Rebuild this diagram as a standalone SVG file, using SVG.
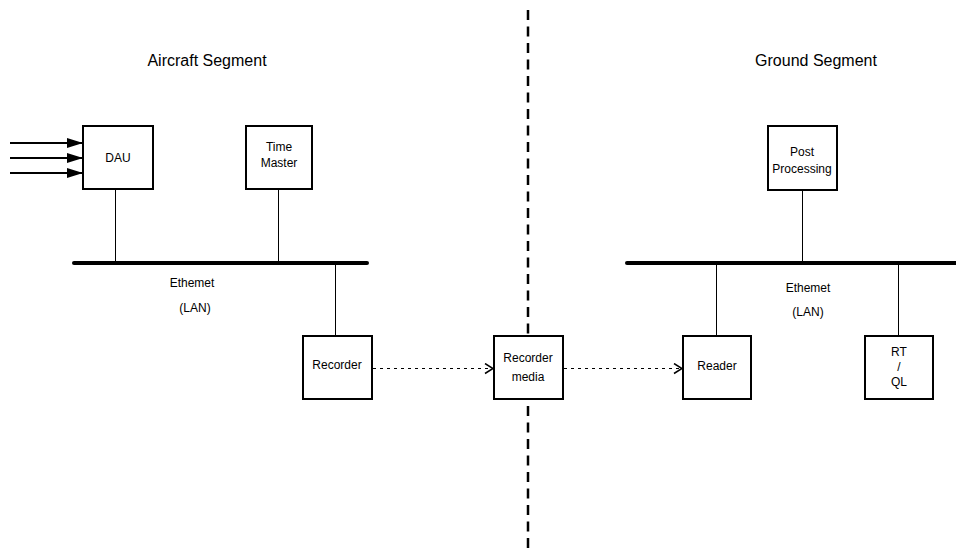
<svg xmlns="http://www.w3.org/2000/svg" width="956" height="551" viewBox="0 0 956 551">
<style>
.box{fill:#fff;stroke:#000;stroke-width:2}
.t{font-family:"Liberation Sans",Arial,sans-serif;font-size:12px;fill:#000;text-anchor:middle}
.title{font-family:"Liberation Sans",Arial,sans-serif;font-size:16px;fill:#000;text-anchor:middle}
.bus{stroke:#000;stroke-width:4;stroke-linecap:round}
.ln{stroke:#000;stroke-width:1;fill:none}
.dash{stroke:#000;stroke-width:1;stroke-dasharray:3 4;fill:none}
.in{stroke:#000;stroke-width:2;fill:none}
</style>
<defs>
<marker id="solid" markerWidth="16" markerHeight="10" refX="16" refY="5" orient="auto" markerUnits="userSpaceOnUse">
<path d="M0,0 L16,5 L0,10 Z" fill="#000"/>
</marker>
<marker id="open" markerWidth="10" markerHeight="12" refX="9" refY="6" orient="auto" markerUnits="userSpaceOnUse">
<path d="M1,1 L9,6 L1,11" fill="none" stroke="#000" stroke-width="1.5"/>
</marker>
</defs>
<rect width="956" height="551" fill="#fff"/>
<g id="divider">
<line x1="528" y1="10" x2="528" y2="551" stroke="#000" stroke-width="2.5" stroke-dasharray="10 6.5"/>
</g>
<g id="titles">
<text class="title" x="207" y="66">Aircraft Segment</text>
<text class="title" x="816" y="66">Ground Segment</text>
</g>
<g id="connectors">
<line class="in" x1="10" y1="143" x2="83" y2="143" marker-end="url(#solid)"/>
<line class="in" x1="10" y1="158" x2="83" y2="158" marker-end="url(#solid)"/>
<line class="in" x1="10" y1="173" x2="83" y2="173" marker-end="url(#solid)"/>
<line class="bus" x1="74" y1="263" x2="367" y2="263"/>
<line class="bus" x1="627" y1="263" x2="956" y2="263"/>
<line class="ln" x1="115.5" y1="190" x2="115.5" y2="263"/>
<line class="ln" x1="278.5" y1="190" x2="278.5" y2="263"/>
<line class="ln" x1="335.5" y1="263" x2="335.5" y2="336"/>
<line class="ln" x1="802.5" y1="190" x2="802.5" y2="263"/>
<line class="ln" x1="716.5" y1="263" x2="716.5" y2="336"/>
<line class="ln" x1="898.5" y1="263" x2="898.5" y2="336"/>
<line class="dash" x1="373" y1="368.5" x2="493" y2="368.5" marker-end="url(#open)"/>
<line class="dash" x1="564" y1="368.5" x2="682" y2="368.5" marker-end="url(#open)"/>
</g>
<g id="lan-left">
<text class="t" x="192" y="287">Ethemet</text>
<text class="t" x="195" y="312">(LAN)</text>
</g>
<g id="lan-right">
<text class="t" x="808" y="292">Ethemet</text>
<text class="t" x="808" y="316">(LAN)</text>
</g>
<g id="dau">
<rect class="box" x="83" y="126" width="70" height="63"/>
<text class="t" x="118" y="162">DAU</text>
</g>
<g id="time-master">
<rect class="box" x="246" y="126" width="66" height="63"/>
<text class="t" x="279" y="151">Time</text>
<text class="t" x="279" y="167">Master</text>
</g>
<g id="recorder">
<rect class="box" x="303" y="336" width="69" height="63"/>
<text class="t" x="337" y="369">Recorder</text>
</g>
<g id="recorder-media">
<rect class="box" x="494" y="336" width="69" height="63"/>
<text class="t" x="528" y="362">Recorder</text>
<text class="t" x="528" y="381">media</text>
</g>
<g id="reader">
<rect class="box" x="683" y="336" width="68" height="63"/>
<text class="t" x="717" y="370">Reader</text>
</g>
<g id="rt-ql">
<rect class="box" x="865" y="336" width="68" height="63"/>
<text class="t" x="899" y="356">RT</text>
<text class="t" x="899" y="371">/</text>
<text class="t" x="899" y="386">QL</text>
</g>
<g id="post-processing">
<rect class="box" x="768" y="126" width="69" height="64"/>
<text class="t" x="802" y="156">Post</text>
<text class="t" x="802" y="173">Processing</text>
</g>
</svg>
